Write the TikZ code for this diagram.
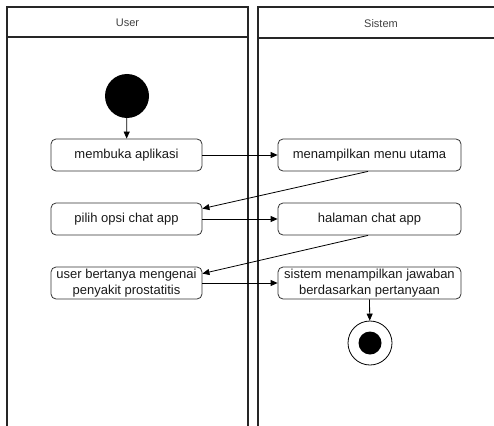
\documentclass[tikz,border=0pt]{standalone}
\usepackage{fontspec}
\setmainfont{Liberation Sans}
\usetikzlibrary{arrows.meta}
\begin{document}
\begin{tikzpicture}[x=1pt,y=-1pt,
  lane/.style={draw=black!85,line width=1.3pt},
  act/.style={draw=black!80,line width=0.8pt,rounded corners=5pt,minimum width=151pt,minimum height=32pt,inner sep=1pt,align=center,font=\fontsize{13}{15.5}\selectfont,text=black!90},
  hdr/.style={font=\fontsize{11}{13}\selectfont,text=black!75},
  flow/.style={draw=black,line width=0.8pt,-{Triangle[length=7pt,width=6pt]}}]
\useasboundingbox (0,0) rectangle (494,425);
\clip (0,0) rectangle (494,425);
% swimlanes
\draw[lane] (7,440) -- (7,7) -- (248,7) -- (248,440);
\draw[lane] (7,37) -- (248,37);
\draw[lane] (258,440) -- (258,7) -- (510,7);
\draw[lane] (258,38) -- (510,38);
\node[hdr] (hu) at (127.5,23) {User};
\node[hdr] (hs) at (381,24) {Sistem};
% start
\node[circle,fill=black,minimum size=44pt,inner sep=0pt] (start) at (127,96) {};
% activities
\node[act] (a1) at (126.5,155) {membuka aplikasi};
\node[act,minimum width=183pt] (a2) at (369.5,155) {menampilkan menu utama};
\node[act] (a3) at (126.5,219) {pilih opsi chat app};
\node[act,minimum width=183pt] (a4) at (369.5,219) {halaman chat app};
\node[act] (a5) at (126.5,283) {user bertanya mengenai\\penyakit prostatitis};
\node[act,minimum width=183pt] (a6) at (369.5,283) {sistem menampilkan jawaban\\berdasarkan pertanyaan};
% end
\node[circle,draw=black,line width=0.8pt,fill=white,minimum size=44pt,inner sep=0pt] (end) at (370,343) {};
\node[circle,fill=black,minimum size=23pt,inner sep=0pt] (endin) at (end) {};
% connectors
\draw[flow] (start) -- (a1);
\draw[flow] (a1) -- (a2);
\draw[flow] ([xshift=-1.5pt]a2.south) -- ([yshift=-6pt]a3.north east);
\draw[flow] (a3) -- (a4);
\draw[flow] ([xshift=-1.5pt]a4.south) -- ([yshift=-7pt]a5.north east);
\draw[flow] (a5) -- (a6);
\draw[flow] (a6.south) -- (end);
\end{tikzpicture}
\end{document}
